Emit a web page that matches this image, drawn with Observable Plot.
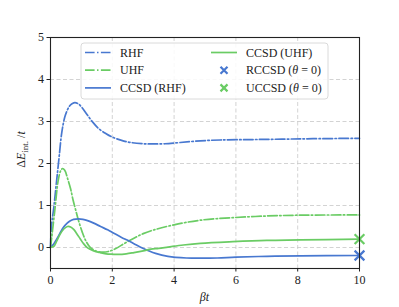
<!DOCTYPE html>
<html>
<head>
<meta charset="utf-8">
<script src="https://cdn.jsdelivr.net/npm/d3@7"></script>
<script src="https://cdn.jsdelivr.net/npm/@observablehq/plot@0.6"></script>
<style>
  html, body { margin: 0; padding: 0; background: #fff; }
  #chart svg { display: block; }
  #chart svg text { font-family: "Liberation Serif", "Times New Roman", serif !important; }
</style>
</head>
<body>
<div id="chart"></div>
<script>
// ---- data ----
const tRHF = [0, 0.03, 0.11, 0.19, 0.28, 0.36, 0.46, 0.55, 0.63, 0.71, 0.79, 0.88, 1.0, 1.17, 1.35, 1.56, 1.8, 2.0, 2.3, 2.6, 3.0, 3.3, 3.7, 4.2, 4.85, 5.5, 6.5, 7.5, 8.5, 10];
const eRHF = [0, 0.5, 0.97, 1.53, 2.16, 2.71, 3.1, 3.28, 3.38, 3.43, 3.45, 3.43, 3.35, 3.18, 3.0, 2.83, 2.71, 2.63, 2.55, 2.5, 2.47, 2.465, 2.47, 2.5, 2.54, 2.56, 2.57, 2.58, 2.59, 2.6];

const tUHF = [0, 0.03, 0.14, 0.25, 0.33, 0.39, 0.46, 0.57, 0.65, 0.73, 0.82, 0.9, 1.03, 1.15, 1.3, 1.5, 1.7, 1.9, 2.1, 2.4, 2.7, 3.0, 3.35, 4.0, 4.85, 5.9, 7.0, 8.1, 10];
const eUHF = [0, 0.18, 0.89, 1.6, 1.83, 1.88, 1.84, 1.6, 1.4, 1.13, 0.88, 0.66, 0.36, 0.15, -0.01, -0.09, -0.11, -0.09, -0.03, 0.1, 0.22, 0.33, 0.42, 0.54, 0.65, 0.71, 0.75, 0.77, 0.775];

const tCCR = [0, 0.09, 0.2, 0.3, 0.42, 0.54, 0.63, 0.75, 0.9, 1.05, 1.2, 1.4, 1.62, 1.85, 2.05, 2.3, 2.5, 2.7, 2.9, 3.15, 3.4, 3.8, 4.4, 4.9, 5.4, 6.0, 7.0, 8.1, 10];
const eCCR = [0, 0.07, 0.2, 0.33, 0.48, 0.58, 0.63, 0.67, 0.68, 0.67, 0.64, 0.58, 0.5, 0.42, 0.34, 0.24, 0.17, 0.09, 0.01, -0.07, -0.14, -0.21, -0.25, -0.255, -0.25, -0.23, -0.21, -0.2, -0.19];

const tCCU = [0, 0.11, 0.2, 0.3, 0.43, 0.55, 0.65, 0.75, 0.84, 0.96, 1.06, 1.2, 1.4, 1.6, 1.8, 2.0, 2.2, 2.45, 2.7, 3.0, 3.25, 3.5, 3.8, 4.3, 4.85, 5.9, 7.0, 8.1, 10];
const eCCU = [0, 0.03, 0.15, 0.3, 0.44, 0.5, 0.49, 0.43, 0.34, 0.21, 0.1, -0.01, -0.08, -0.12, -0.15, -0.16, -0.165, -0.15, -0.12, -0.08, -0.04, -0.02, 0.01, 0.06, 0.1, 0.14, 0.17, 0.18, 0.2];

const crossT = [10, 10];
const crossE = [-0.19, 0.2];
const crossSeries = ["RCCSD (θ=0)", "UCCSD (θ=0)"];

const xTicks = [0, 2, 4, 6, 8, 10];
const yTicks = [0, 1, 2, 3, 4, 5];

const BLUE = "#4878d0";
const GREEN = "#6acc64";
const DASHDOT = "9.6,2.4,1.5,2.4";

const toRows = (ts, es, s) => ts.map((t, i) => ({t, e: es[i], s}));
const rhf = toRows(tRHF, eRHF, "RHF");
const uhf = toRows(tUHF, eUHF, "UHF");
const ccr = toRows(tCCR, eCCR, "CCSD (RHF)");
const ccu = toRows(tCCU, eCCU, "CCSD (UHF)");
const crosses = crossT.map((t, i) => ({t, e: crossE[i], s: crossSeries[i]}));

const FONT = "'Liberation Serif', 'Times New Roman', serif";

const chart = Plot.plot({
  width: 399,
  height: 307,
  marginLeft: 50,
  marginRight: 40,
  marginTop: 37,
  marginBottom: 39,
  style: {fontFamily: FONT, fontSize: "12px", color: "#222", background: "#fff"},
  x: {domain: [0, 10], ticks: xTicks, label: null},
  y: {domain: [-0.5, 5], ticks: yTicks, label: null},
  marks: [
    Plot.gridX(xTicks.filter(d => d > 0 && d < 10), {stroke: "#c8c8c8", strokeOpacity: 1, strokeDasharray: "4,2.5", strokeWidth: 0.8}),
    Plot.gridY(yTicks.filter(d => d < 5), {stroke: "#c8c8c8", strokeOpacity: 1, strokeDasharray: "4,2.5", strokeWidth: 0.8}),
    Plot.line(rhf, {x: "t", y: "e", stroke: BLUE, strokeWidth: 1.7, strokeDasharray: DASHDOT, curve: "catmull-rom"}),
    Plot.line(uhf, {x: "t", y: "e", stroke: GREEN, strokeWidth: 1.7, strokeDasharray: DASHDOT, curve: "catmull-rom"}),
    Plot.line(ccr, {x: "t", y: "e", stroke: BLUE, strokeWidth: 1.7, curve: "catmull-rom"}),
    Plot.line(ccu, {x: "t", y: "e", stroke: GREEN, strokeWidth: 1.7, curve: "catmull-rom"}),
    Plot.dot(crosses, {x: "t", y: "e", symbol: "times", r: 4.5, stroke: d => d.s.startsWith("R") ? BLUE : GREEN, strokeWidth: 2.2, clip: false}),
    Plot.frame({stroke: "#222", strokeWidth: 1.1}),
    Plot.axisX({ticks: xTicks, tickFormat: d3.format("d"), tickSize: 3.5, tickPadding: 3, fontSize: 12, label: null, stroke: "#222"}),
    Plot.axisY({ticks: yTicks, tickFormat: d3.format("d"), tickSize: 3.5, tickPadding: 3, fontSize: 12, label: null, stroke: "#222"})
  ]
});

document.getElementById("chart").appendChild(chart);

// ---- axis labels & legend (layout only) ----
const svg = d3.select(chart);
const W = 399, H = 307, mL = 50, mR = 40, mT = 37, mB = 39;
const cx = (mL + W - mR) / 2, cy = (mT + H - mB) / 2;

const xl = svg.append("text")
  .attr("x", cx).attr("y", 301).attr("text-anchor", "middle")
  .style("font-size", "12px").attr("fill", "#222")
  .style("font-style", "italic");
xl.text("βt");

const yl = svg.append("text")
  .attr("transform", `translate(25,${cy - 3}) rotate(-90)`)
  .attr("text-anchor", "middle")
  .style("font-size", "12px").attr("fill", "#222");
yl.append("tspan").text("Δ");
yl.append("tspan").style("font-style", "italic").text("E");
yl.append("tspan").attr("dy", 3).style("font-size", "9px").text("int.");
yl.append("tspan").attr("dy", -3).text(" /");
yl.append("tspan").style("font-style", "italic").text("t");

const legendItems = [
  {label: "RHF", color: BLUE, kind: "dashdot", col: 0, row: 0},
  {label: "UHF", color: GREEN, kind: "dashdot", col: 0, row: 1},
  {label: "CCSD (RHF)", color: BLUE, kind: "solid", col: 0, row: 2},
  {label: "CCSD (UHF)", color: GREEN, kind: "solid", col: 1, row: 0},
  {label: "RCCSD (θ=0)", color: BLUE, kind: "cross", col: 1, row: 1},
  {label: "UCCSD (θ=0)", color: GREEN, kind: "cross", col: 1, row: 2}
];
const lg = svg.append("g");
lg.append("rect").attr("x", 81).attr("y", 43).attr("width", 247).attr("height", 56)
  .attr("rx", 3).attr("fill", "#fff").attr("fill-opacity", 0.85)
  .attr("stroke", "#d0d0d0").attr("stroke-width", 0.8);
const colX = [85, 211];
legendItems.forEach(it => {
  const x0 = colX[it.col], y0 = 52.5 + it.row * 17.7;
  if (it.kind === "cross") {
    const c = x0 + 13, s = 3.5;
    lg.append("path").attr("d", `M${c - s},${y0 - s}L${c + s},${y0 + s}M${c - s},${y0 + s}L${c + s},${y0 - s}`)
      .attr("stroke", it.color).attr("stroke-width", 2.2).attr("fill", "none");
  } else {
    lg.append("line").attr("x1", x0).attr("x2", x0 + 26).attr("y1", y0).attr("y2", y0)
      .attr("stroke", it.color).attr("stroke-width", 1.7)
      .attr("stroke-dasharray", it.kind === "dashdot" ? DASHDOT : null);
  }
  const tx = lg.append("text").attr("x", x0 + 35).attr("y", y0 + 4)
    .attr("text-anchor", "start")
    .style("font-size", "12px").attr("fill", "#222");
  const m = it.label.match(/^(\w+) \((θ)=0\)$/);
  if (m) {
    tx.append("tspan").text(m[1] + " (");
    tx.append("tspan").style("font-style", "italic").text("θ");
    tx.append("tspan").text(" = 0)");
  } else {
    tx.text(it.label);
  }
});
</script>
</body>
</html>
